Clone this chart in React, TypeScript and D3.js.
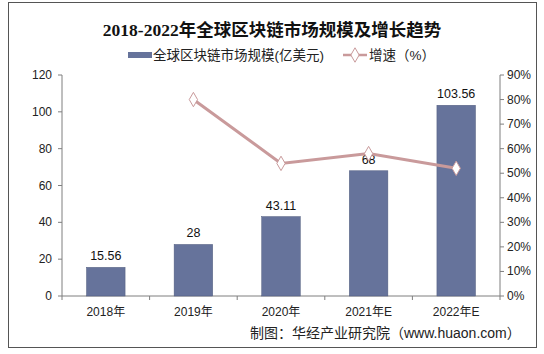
import React from "react";
import * as d3 from "d3";

const years = ["2018年", "2019年", "2020年", "2021年E", "2022年E"];
const marketSize = [15.56, 28, 43.11, 68, 103.56];
const growthYears = ["2019年", "2020年", "2021年E", "2022年E"];
const growth = [80, 54, 58, 52];
const leftTicks = [0, 20, 40, 60, 80, 100, 120];
const rightTicks = [0, 10, 20, 30, 40, 50, 60, 70, 80, 90];

const W = 544;
const H = 354;
const left = 62;
const right = 500;
const top = 75;
const bottom = 296;

const barColor = "#66739B";
const lineColor = "#C99A9B";
const axisColor = "#7f7f7f";
const font = "Arial, 'Liberation Sans', 'Noto Sans CJK SC', sans-serif";

export default function App() {
  // bars centred in each category slot
  const x = d3.scaleBand().domain(years).range([left, right]).paddingInner(0.56).paddingOuter(0.28);
  const xOuter = d3.scaleBand().domain(years).range([left, right]);
  const y = d3.scaleLinear().domain([0, 120]).range([bottom, top]);
  const y2 = d3.scaleLinear().domain([0, 90]).range([bottom, top]);

  const linePath = d3
    .line<number>()
    .x((d, i) => x(growthYears[i])! + x.bandwidth() / 2)
    .y((d) => y2(d))(growth);

  const diamond = d3.symbol().type(d3.symbolDiamond).size(60)();

  return (
    <svg width={W} height={H} style={{ position: "absolute", left: 0, top: 0, background: "#fff" }}>
      <rect x={8.5} y={2.5} width={528} height={345} fill="#fff" stroke="#555" />
      <text
        x={272}
        y={36}
        textAnchor="middle"
        fontSize={17.5}
        fontWeight="bold"
        fontFamily="'Liberation Serif', 'Noto Sans CJK SC', serif"
        fill="#111"
      >
        2018-2022年全球区块链市场规模及增长趋势
      </text>

      {/* legend */}
      <g fontFamily={font} fontSize={13.5} fill="#222">
        <rect x={128} y={52} width={24} height={6} fill={barColor} />
        <text x={153} y={60}>全球区块链市场规模(亿美元)</text>
        <line x1={343} x2={367} y1={55} y2={55} stroke={lineColor} strokeWidth={2.5} />
        <path d={diamond} transform="translate(355,55)" fill="#fff" stroke={lineColor} />
        <text x={369} y={60}>增速（%）</text>
      </g>

      {/* left axis */}
      <g fontFamily={font} fontSize={12} fill="#222">
        <line x1={left} x2={left} y1={top} y2={bottom} stroke={axisColor} />
        {leftTicks.map((t) => (
          <g key={t}>
            <line x1={left - 4} x2={left} y1={y(t)} y2={y(t)} stroke={axisColor} />
            <text x={left - 10} y={y(t) + 4} textAnchor="end">{t}</text>
          </g>
        ))}
      </g>

      {/* right axis */}
      <g fontFamily={font} fontSize={12} fill="#222">
        <line x1={right} x2={right} y1={top} y2={bottom} stroke={axisColor} />
        {rightTicks.map((t) => (
          <g key={t}>
            <line x1={right} x2={right + 4} y1={y2(t)} y2={y2(t)} stroke={axisColor} />
            <text x={right + 7} y={y2(t) + 4}>{t}%</text>
          </g>
        ))}
      </g>

      {/* bottom axis */}
      <g fontFamily={font} fontSize={12} fill="#222">
        <line x1={left} x2={right} y1={bottom} y2={bottom} stroke={axisColor} />
        {years.map((c) => (
          <line
            key={c + "t"}
            x1={xOuter(c)! + xOuter.bandwidth()}
            x2={xOuter(c)! + xOuter.bandwidth()}
            y1={bottom}
            y2={bottom + 4}
            stroke={axisColor}
          />
        ))}
        <line x1={left} x2={left} y1={bottom} y2={bottom + 4} stroke={axisColor} />
        {years.map((c) => (
          <text key={c} x={x(c)! + x.bandwidth() / 2} y={bottom + 20} textAnchor="middle">
            {c}
          </text>
        ))}
      </g>

      {/* bars */}
      {marketSize.map((v, i) => (
        <g key={years[i]}>
          <rect
            x={x(years[i])}
            y={y(v)}
            width={x.bandwidth()}
            height={bottom - y(v)}
            fill={barColor}
            stroke="#4f5a7d"
            strokeWidth={0.5}
          />
          <text
            x={x(years[i])! + x.bandwidth() / 2}
            y={y(v) - 7}
            textAnchor="middle"
            fontFamily={font}
            fontSize={12.5}
            fill="#111"
          >
            {v}
          </text>
        </g>
      ))}

      {/* growth line */}
      <path d={linePath ?? ""} fill="none" stroke={lineColor} strokeWidth={3} />
      {growth.map((g, i) => (
        <path
          key={growthYears[i]}
          d={diamond}
          transform={`translate(${x(growthYears[i])! + x.bandwidth() / 2},${y2(g)})`}
          fill="#fff"
          stroke={lineColor}
          strokeWidth={1}
        />
      ))}

      <text x={250} y={338} fontFamily={font} fontSize={14} fill="#222">
        制图：华经产业研究院（www.huaon.com）
      </text>
    </svg>
  );
}
